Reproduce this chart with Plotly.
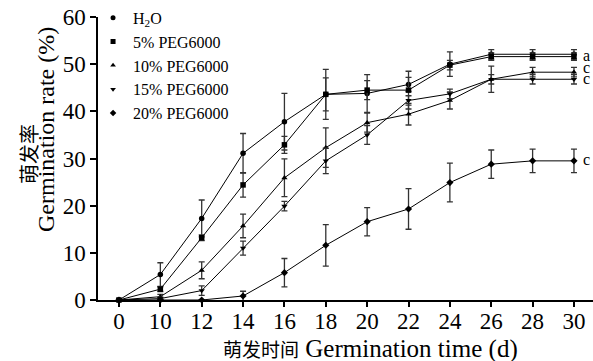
import plotly.graph_objects as go

days = ["0", "10", "12", "14", "16", "18", "20", "22", "24", "26", "28", "30"]

series_names = ["H<sub>2</sub>O", "5% PEG6000", "10% PEG6000", "15% PEG6000", "20% PEG6000"]
symbols = ["circle", "square", "triangle-up", "triangle-down", "diamond"]

h2o = [0, 5.4, 17.3, 31.1, 37.8, 43.6, 43.8, 45.7, 50.0, 52.1, 52.1, 52.1]
h2o_err = [0, 2.5, 3.9, 4.2, 6.0, 5.3, 4.0, 1.5, 2.6, 1.0, 1.0, 1.0]
peg5 = [0, 2.3, 13.2, 24.4, 32.9, 43.6, 44.5, 44.5, 49.8, 51.6, 51.6, 51.6]
peg5_err = [0, 0.5, 0.6, 2.6, 1.8, 3.5, 2.0, 4.0, 1.0, 0.8, 0.8, 0.8]
peg10 = [0, 0.7, 6.3, 15.7, 25.9, 32.3, 37.6, 39.4, 42.3, 46.8, 48.3, 48.3]
peg10_err = [0, 0.5, 1.8, 2.5, 4.0, 4.2, 2.0, 2.3, 1.8, 2.8, 1.0, 1.0]
peg15 = [0, 0.3, 2.0, 11.0, 19.9, 29.5, 35.0, 42.3, 43.7, 46.8, 46.8, 46.8]
peg15_err = [0, 0.3, 1.0, 1.5, 1.0, 2.7, 2.0, 1.0, 1.0, 1.0, 1.0, 1.0]
peg20 = [0, 0, 0, 0.85, 5.8, 11.6, 16.6, 19.3, 24.9, 28.8, 29.5, 29.5]
peg20_err = [0, 0, 0, 1.0, 3.0, 4.4, 3.0, 4.3, 4.1, 3.0, 2.5, 2.5]

values = [h2o, peg5, peg10, peg15, peg20]
errors = [h2o_err, peg5_err, peg10_err, peg15_err, peg20_err]

sig_labels = ["a", "c", "c", "c"]
sig_y = [51.9, 49.4, 47.0, 29.7]

SERIF = "Liberation Serif"
CJK = "Noto Sans CJK SC"

# plot area in pixels (for placing titles in paper coordinates)
L, R, T, B = 98, 593, 17, 300
def px(xp):
    return (xp - L) / (R - L)
def py(yp):
    return (B - yp) / (B - T)

fig = go.Figure()
for name, sym, v, e in zip(series_names, symbols, values, errors):
    fig.add_trace(go.Scatter(
        x=days, y=v, mode="lines+markers", showlegend=False,
        line=dict(color="black", width=1),
        marker=dict(symbol=sym, size=5.5, color="black"),
        error_y=dict(type="data", array=e, visible=True, color="#333333",
                     thickness=1.3, width=3),
        cliponaxis=False,
    ))
for name, sym in zip(series_names, symbols):
    fig.add_trace(go.Scatter(
        x=[None], y=[None], mode="markers", name=name,
        marker=dict(symbol=sym, size=5, color="black"),
    ))

for lab, yv in zip(sig_labels, sig_y):
    fig.add_annotation(x=0.997, xref="paper", y=yv, yref="y", text=lab,
                       showarrow=False, xanchor="right",
                       font=dict(family=SERIF, size=16, color="black"))

# axis titles
fig.add_annotation(
    x=px(370), xref="paper", y=py(349), yref="paper",
    yanchor="middle", xanchor="center", showarrow=False,
    text=f"<span style='font-family:{CJK};font-size:19px'>萌发时间</span> Germination time (d)",
    font=dict(family=SERIF, size=25, color="black"))
fig.add_annotation(
    x=px(28), xref="paper", y=py(154), yref="paper", showarrow=False,
    text="萌发率", textangle=-90, xanchor="center", yanchor="middle",
    font=dict(family=CJK, size=20, color="black"))
fig.add_annotation(
    x=px(46), xref="paper", y=py(130), yref="paper", showarrow=False,
    text="Germination rate (%)", textangle=-90, xanchor="center", yanchor="middle",
    font=dict(family=SERIF, size=24, color="black"))

fig.update_layout(
    width=593, height=361,
    margin=dict(l=L, r=593 - R, t=T, b=361 - B),
    paper_bgcolor="white", plot_bgcolor="white",
    font=dict(family=SERIF, color="black", size=22),
    legend=dict(x=-0.01, y=1.057, xanchor="left", yanchor="top",
                bgcolor="rgba(0,0,0,0)", font=dict(family=SERIF, size=16),
                itemwidth=30, tracegroupgap=0),
    xaxis=dict(
        type="category", range=[-0.507, 11.46],
        showline=True, linecolor="black", linewidth=1.5,
        ticks="outside", ticklen=5, tickwidth=1.5, tickcolor="black",
        showgrid=False, zeroline=False, ticklabelstandoff=-5,
        tickfont=dict(family=SERIF, size=23),
    ),
    yaxis=dict(
        range=[0, 60], tickvals=[0, 10, 20, 30, 40, 50, 60],
        showline=True, linecolor="black", linewidth=1.5,
        ticks="outside", ticklen=6, tickwidth=1.5, tickcolor="black",
        showgrid=False, zeroline=False,
        tickfont=dict(family=SERIF, size=23),
    ),
)

fig.write_html("out.html")
